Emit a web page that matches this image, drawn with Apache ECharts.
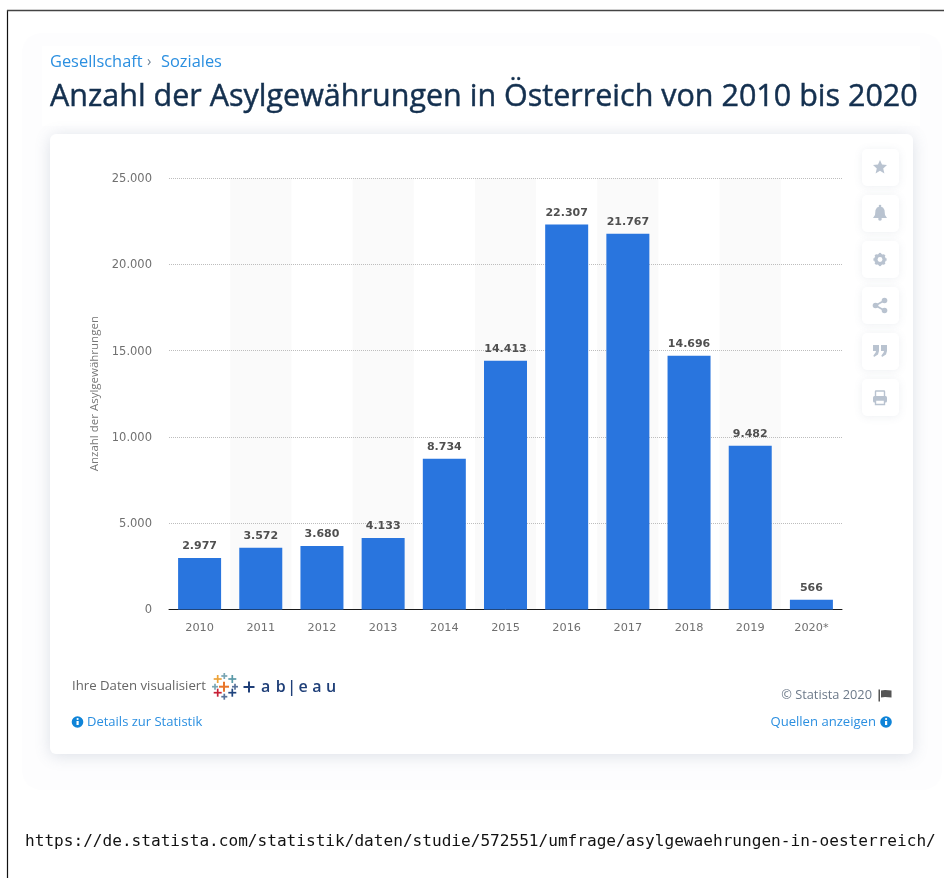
<!DOCTYPE html>
<html><head><meta charset="utf-8">
<style>html,body{margin:0;padding:0;background:#fff}#c{width:944px;height:878px}</style>
<script src="https://cdn.jsdelivr.net/npm/echarts@6/dist/echarts.min.js"></script>
</head><body><div id="c"></div>
<script>
const categories = ['2010','2011','2012','2013','2014','2015','2016','2017','2018','2019','2020*'];
const asylumGrants = [2977,3572,3680,4133,8734,14413,22307,21767,14696,9482,566];
const yTicks = [0,5000,10000,15000,20000,25000];
const breadcrumbs = ['Gesellschaft','›','Soziales'];
const titleText = 'Anzahl der Asylgewährungen in Österreich von 2010 bis 2020';
const yAxisTitle = 'Anzahl der Asylgewährungen';
const urlText = 'https://de.statista.com/statistik/daten/studie/572551/umfrage/asylgewaehrungen-in-oesterreich/';
const de = v => String(v).replace(/\B(?=(\d{3})+(?!\d))/g,'.');
const F = '"Open Sans","Noto Sans",sans-serif';
const D = '"DejaVu Sans",sans-serif';
const chart = echarts.init(document.getElementById('c'),null,{renderer:'canvas'});

const txt=(x,y,text,size,fill,extra={})=>({type:'text',x,y,z:extra.z||5,style:Object.assign({text,font:`${extra.weight||'normal'} ${size}px ${extra.family||F}`,fill,textAlign:extra.align||'left',textVerticalAlign:'middle'},extra.style||{})});
const infoIcon=(cx,cy)=>({type:'group',children:[
  {type:'circle',shape:{cx,cy,r:5.8},style:{fill:'#0f84d8'},z:5},
  {type:'rect',shape:{x:cx-1,y:cy-1,width:2.2,height:4},style:{fill:'#fff'},z:6},
  {type:'circle',shape:{cx:cx+.1,cy:cy-3,r:1.1},style:{fill:'#fff'},z:6}]});
const iconFill='#b9c3d0';
const btn=(cy)=>({type:'rect',shape:{x:862,y:cy-18.5,width:37,height:37,r:5},z:3,style:{fill:'#fff',shadowBlur:8,shadowColor:'rgba(90,110,140,0.10)',shadowOffsetY:1}});
const star=(cx,cy)=>({type:'polygon',z:5,shape:{points:[[cx,cy-7],[cx+2,cy-2.4],[cx+7,cy-2],[cx+3.2,cy+1.4],[cx+4.4,cy+6.5],[cx,cy+3.8],[cx-4.4,cy+6.5],[cx-3.2,cy+1.4],[cx-7,cy-2],[cx-2,cy-2.4]]},style:{fill:iconFill}});
const bell=(cx,cy)=>({type:'group',children:[
  {type:'polygon',z:5,shape:{points:[[cx-7,cy+5],[cx-5,cy+2],[cx-4.5,cy-3],[cx-3,cy-5.5],[cx,cy-6.5],[cx+3,cy-5.5],[cx+4.5,cy-3],[cx+5,cy+2],[cx+7,cy+5]]},style:{fill:iconFill}},
  {type:'circle',z:5,shape:{cx,cy:cy-7,r:1.3},style:{fill:iconFill}},
  {type:'circle',z:5,shape:{cx,cy:cy+6,r:1.8},style:{fill:iconFill}}]});
const gear=(cx,cy)=>({type:'group',children:[
  {type:'circle',z:5,shape:{cx,cy,r:4.3},style:{fill:'none',stroke:iconFill,lineWidth:3}},
  ...[0,1,2,3].map(i=>({type:'line',z:5,shape:{x1:cx+6.6*Math.cos(i*Math.PI/4),y1:cy+6.6*Math.sin(i*Math.PI/4),x2:cx-6.6*Math.cos(i*Math.PI/4),y2:cy-6.6*Math.sin(i*Math.PI/4)},style:{stroke:iconFill,lineWidth:2.4}})),
  {type:'circle',z:6,shape:{cx,cy,r:2.4},style:{fill:'#fff'}}]});
const share=(cx,cy)=>({type:'group',children:[
  {type:'polyline',z:5,shape:{points:[[cx+4.5,cy-5],[cx-4.5,cy],[cx+4.5,cy+5]]},style:{fill:'none',stroke:iconFill,lineWidth:1.8}},
  {type:'circle',z:5,shape:{cx:cx+4.5,cy:cy-5,r:2.8},style:{fill:iconFill}},
  {type:'circle',z:5,shape:{cx:cx-4.5,cy,r:2.8},style:{fill:iconFill}},
  {type:'circle',z:5,shape:{cx:cx+4.5,cy:cy+5,r:2.8},style:{fill:iconFill}}]});
const quoteOne=(x,y)=>({type:'polygon',z:5,shape:{points:[[x,y],[x+6,y],[x+6,y+6],[x+5,y+9.5],[x+1,y+12],[x+.4,y+10.4],[x+2.6,y+7.5],[x+3,y+6],[x,y+6]]},style:{fill:iconFill}});
const printer=(cx,cy)=>({type:'group',children:[
  {type:'rect',z:5,shape:{x:cx-7,y:cy-2,width:14,height:6.5,r:1.5},style:{fill:iconFill}},
  {type:'rect',z:5,shape:{x:cx-4.5,y:cy-7,width:9,height:6,r:.5},style:{fill:'none',stroke:iconFill,lineWidth:1.4}},
  {type:'rect',z:6,shape:{x:cx-4.5,y:cy+2,width:9,height:4.5},style:{fill:'#fff',stroke:iconFill,lineWidth:1.4}}]});
const plus=(cx,cy,r,color)=>({type:'group',children:[
  {type:'line',z:5,shape:{x1:cx-r,y1:cy,x2:cx+r,y2:cy},style:{stroke:color,lineWidth:r>4.5?2:1.7}},
  {type:'line',z:5,shape:{x1:cx,y1:cy-r,x2:cx,y2:cy+r},style:{stroke:color,lineWidth:r>4.5?2:1.7}}]});
const tableauMark=[[224,686.7,5,'#e8762c'],[217.7,679,4,'#eda33a'],[224.3,676,3,'#7aa6b4'],[232.3,679,4,'#5a9aa8'],[215,686.7,3,'#7aa6b4'],[235,686.7,3,'#59739b'],[217.7,692.7,4,'#c72035'],[224.3,696.7,3,'#59739b'],[232.3,692.7,4,'#1f447e']];
const wordmark=[['a',265.7],['b',280.7],['|',291.7],['e',303],['a',317],['u',331]];

const graphic=[
  {type:'rect',z:0,shape:{x:22,y:33,width:920,height:757,r:20},style:{fill:'#fdfdfe'}},
  {type:'rect',z:0,shape:{x:42,y:46,width:878,height:80},style:{fill:'#fff'}},
  {type:'rect',z:0,shape:{x:50,y:134,width:863,height:620,r:6},style:{fill:'#fff',shadowBlur:16,shadowColor:'rgba(90,110,140,0.20)',shadowOffsetY:2}},
  {type:'line',z:8,shape:{x1:7.5,y1:10,x2:7.5,y2:878},style:{stroke:'#111',lineWidth:1.2}},
  {type:'line',z:8,shape:{x1:7,y1:10.5,x2:944,y2:10.5},style:{stroke:'#444',lineWidth:1.5}},
  txt(50,62,breadcrumbs[0],16.4,'#2b8fe0'),
  txt(147,62,breadcrumbs[1],14.5,'#6f8296'),
  txt(161,62,breadcrumbs[2],16.4,'#2b8fe0'),
  txt(50,97,titleText,30.5,'#14304f',{style:{stroke:'#14304f',lineWidth:0.45}}),
  txt(72,686,'Ihre Daten visualisiert',13.2,'#666'),
  ...tableauMark.map(m=>plus(...m)),
  plus(249,687,5.5,'#1f3f78'),
  ...wordmark.map(w=>txt(w[1],687.5,w[0],16,'#1f3f78',{weight:'600',align:'center'})),
  infoIcon(77.5,722),
  txt(87,722,'Details zur Statistik',13,'#2b8fe0'),
  txt(872,695.5,'© Statista 2020',12.8,'#6d7a8a',{align:'right'}),
  {type:'rect',z:5,shape:{x:878.5,y:689.5,width:1.5,height:12},style:{fill:'#555'}},
  {type:'polygon',z:5,shape:{points:[[881,690.5],[885,690],[891.5,690.5],[891.5,697.5],[885,697],[881,697.5]]},style:{fill:'#555'}},
  txt(876,722,'Quellen anzeigen',13.1,'#2b8fe0',{align:'right'}),
  infoIcon(886,722),
  btn(167.5),btn(213.5),btn(259.5),btn(305.5),btn(351.5),btn(397.5),
  star(880,167),bell(880,213),gear(880,259.5),share(880,305.5),quoteOne(873,345),quoteOne(881,345),printer(880,398),
  txt(25,842,urlText,16.1,'#111',{family:'"DejaVu Sans Mono",monospace'})
];

chart.setOption({
  animation:false,
  backgroundColor:'#fff',
  graphic,
  grid:{left:169,width:673,top:178,height:431.4,containLabel:false},
  xAxis:{type:'category',data:categories,z:1,
    axisLine:{lineStyle:{color:'#1a1a1a',width:1}},axisTick:{show:false},
    axisLabel:{color:'#707070',fontSize:11.3,fontFamily:D,margin:13,interval:0},
    splitArea:{show:true,interval:0,areaStyle:{color:['rgba(255,255,255,0)','#fafafa']}},splitLine:{show:false}},
  yAxis:{type:'value',z:2,min:yTicks[0],max:yTicks[yTicks.length-1],interval:yTicks[1]-yTicks[0],
    name:yAxisTitle,nameLocation:'middle',nameGap:68,nameRotate:90,
    nameTextStyle:{color:'#777',fontSize:11.5,fontFamily:F},
    axisLine:{show:false},axisTick:{show:false},
    axisLabel:{color:'#707070',fontSize:11.5,fontFamily:D,margin:17,verticalAlign:'top',padding:[-5,0,0,0],formatter:de},
    splitLine:{showMinLine:false,lineStyle:{color:'#bdbdbd',type:'dotted',width:1}}},
  series:[{type:'bar',data:asylumGrants,barWidth:43,z:4,
    itemStyle:{color:'#2975de'},
    label:{show:true,position:'top',distance:6,color:'#505050',fontSize:11,fontWeight:'bold',fontFamily:D,formatter:p=>de(p.value)}}]
});
</script></body></html>
